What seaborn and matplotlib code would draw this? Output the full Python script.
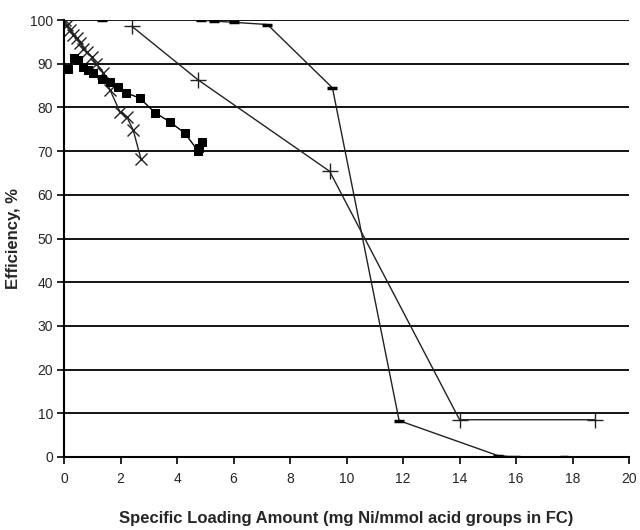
import matplotlib
matplotlib.use("Agg")
import matplotlib.pyplot as plt
import seaborn as sns
import pandas as pd

# Series 1: crosses
cross_x = [0.04, 0.09, 0.21, 0.33, 0.45, 0.57, 0.68, 0.80, 0.98, 1.15, 1.39, 1.63, 1.98, 2.22, 2.45, 2.72]
cross_y = [100.0, 98.9, 97.7, 96.6, 95.8, 94.7, 93.5, 92.8, 91.5, 90.0, 88.0, 84.0, 79.0, 77.9, 74.8, 68.3]

# Series 2: squares
sq_x = [0.14, 0.35, 0.51, 0.68, 0.86, 1.04, 1.33, 1.63, 1.92, 2.19, 2.69, 3.22, 3.75, 4.28, 4.75, 4.79, 4.87]
sq_y = [88.8, 91.3, 90.8, 89.3, 88.6, 87.8, 86.6, 85.9, 84.7, 83.4, 82.1, 78.8, 76.7, 74.1, 70.0, 70.8, 72.2]

# Series 3: plus
plus_x = [2.4, 4.75, 9.4, 14.0, 18.8]
plus_y = [98.6, 86.3, 65.4, 8.5, 8.5]

# Series 4: dashes
dash_x = [1.33, 4.85, 5.3, 6.0, 7.2, 9.5, 11.86, 15.35, 15.95]
dash_y = [100.0, 100.0, 99.8, 99.5, 99.0, 84.5, 8.3, 0.3, 0.0]
# isolated dash point
iso_x = [17.7]
iso_y = [0.0]

x_ticks = list(range(0, 21, 2))
y_ticks = list(range(0, 101, 10))

sns.set_style("white")
plt.rcParams['font.family'] = ['Liberation Sans', 'DejaVu Sans']

fig = plt.figure(figsize=(6.4, 5.3), dpi=100)
ax = fig.add_axes([0.10, 0.138, 0.883, 0.824])

for y in y_ticks[1:]:
    ax.axhline(y, color='black', lw=1.3, zorder=0)

df1 = pd.DataFrame({'x': cross_x, 'y': cross_y})
df2 = pd.DataFrame({'x': sq_x, 'y': sq_y})
df3 = pd.DataFrame({'x': plus_x, 'y': plus_y})
df4 = pd.DataFrame({'x': dash_x, 'y': dash_y})
df5 = pd.DataFrame({'x': iso_x, 'y': iso_y})

sns.lineplot(data=df1, x='x', y='y', sort=False, estimator=None, color='#222222', lw=1.0,
             marker='x', markersize=8, markeredgewidth=1.0, markeredgecolor='#222222', ax=ax)
sns.lineplot(data=df2, x='x', y='y', sort=False, estimator=None, color='black', lw=1.0,
             marker='s', markersize=6, markeredgecolor='black', markerfacecolor='black', ax=ax)
sns.lineplot(data=df3, x='x', y='y', sort=False, estimator=None, color='#222222', lw=1.0,
             marker='+', markersize=11, markeredgewidth=1.0, markeredgecolor='#222222', ax=ax)
sns.lineplot(data=df4, x='x', y='y', sort=False, estimator=None, color='#222222', lw=1.0,
             marker='_', markersize=7, markeredgewidth=2.5, markeredgecolor='black', ax=ax)
sns.scatterplot(data=df5, x='x', y='y', marker='_', s=40, linewidth=2.5, color='black', ax=ax)

ax.set_xlim(0, 20)
ax.set_ylim(0, 100)
ax.set_xticks(x_ticks)
ax.set_yticks(y_ticks)
ax.tick_params(axis='both', direction='out', length=5, width=1.2, color='black',
               labelsize=10, bottom=True, left=True)
ax.tick_params(axis='x', pad=6)
ax.tick_params(axis='y', pad=3)
for sp in ['top', 'right']:
    ax.spines[sp].set_visible(False)
for sp in ['left', 'bottom']:
    ax.spines[sp].set_color('black')
    ax.spines[sp].set_linewidth(1.5)
ax.set_xlabel('Specific Loading Amount (mg Ni/mmol acid groups in FC)', fontsize=12,
              fontweight='bold', labelpad=18)
ax.set_ylabel('Efficiency, %', fontsize=12, fontweight='bold', labelpad=6)

fig.savefig('out.png', dpi=100)
